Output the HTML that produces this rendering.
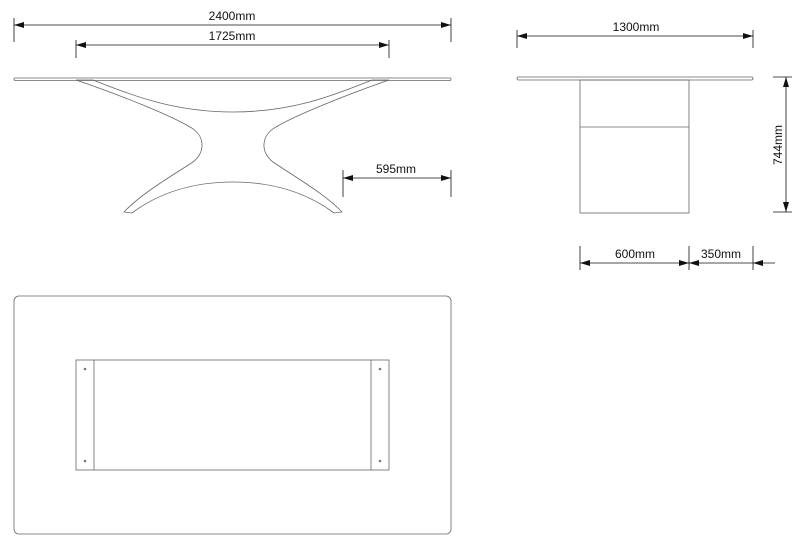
<!DOCTYPE html>
<html><head><meta charset="utf-8"><style>html,body{margin:0;padding:0;background:#fff}svg{display:block}</style></head><body>
<svg width="800" height="543" viewBox="0 0 800 543" xmlns="http://www.w3.org/2000/svg" font-family="Liberation Sans, Arial, sans-serif" font-size="12" fill="none">
<defs>
<marker id="a" markerWidth="10" markerHeight="6" refX="10" refY="3" orient="auto-start-reverse" markerUnits="userSpaceOnUse"><path d="M0,0 L10,3 L0,6 z" fill="#111"/></marker>
</defs>
<g stroke="#111" stroke-width="0.8">
<!-- 2400 -->
<line x1="14" y1="18" x2="14" y2="42"/><line x1="451" y1="18" x2="451" y2="42"/>
<line x1="14" y1="25" x2="451" y2="25" marker-start="url(#a)" marker-end="url(#a)"/>
<!-- 1725 -->
<line x1="76" y1="40" x2="76" y2="58"/><line x1="389" y1="40" x2="389" y2="58"/>
<line x1="76" y1="45" x2="389" y2="45" marker-start="url(#a)" marker-end="url(#a)"/>
<!-- 595 -->
<line x1="343" y1="170" x2="343" y2="197"/><line x1="451" y1="170" x2="451" y2="197"/>
<line x1="343" y1="178" x2="451" y2="178" marker-start="url(#a)" marker-end="url(#a)"/>
<!-- 1300 -->
<line x1="517" y1="30" x2="517" y2="48"/><line x1="753" y1="30" x2="753" y2="48"/>
<line x1="517" y1="36" x2="753" y2="36" marker-start="url(#a)" marker-end="url(#a)"/>
<!-- 744 -->
<line x1="773" y1="77" x2="792" y2="77"/><line x1="773" y1="212" x2="792" y2="212"/>
<line x1="786" y1="77" x2="786" y2="212" marker-start="url(#a)" marker-end="url(#a)"/>
<!-- 600/350 -->
<line x1="580" y1="246" x2="580" y2="270"/><line x1="689" y1="246" x2="689" y2="270"/><line x1="753" y1="246" x2="753" y2="270"/>
<line x1="580" y1="263" x2="689" y2="263" marker-start="url(#a)" marker-end="url(#a)"/>
<line x1="689" y1="263" x2="753" y2="263" marker-start="url(#a)"/>
<line x1="753" y1="263" x2="775" y2="263" marker-start="url(#a)"/>
</g>
<g stroke="#666" stroke-width="0.8">
<rect x="14" y="78" width="437" height="2.5" rx="1.2"/>
<path d="M76,80 C120,95 170,115 190,127 C205,135 206,152 193,162 C165,180 140,195 124,212 L132,213 C160,192 195,182 233,182 C271,182 306,192 334,213 L342,212 C326,195 300,180 273,162 C260,152 261,135 276,127 C296,115 346,95 389,80 L372,80 C330,97 290,112 233,112 C176,112 136,97 93,80 Z"/>
<rect x="517" y="77" width="236" height="3" rx="1.5"/>
<rect x="580" y="80" width="109" height="133"/>
<line x1="580" y1="127" x2="689" y2="127"/>
<rect x="14" y="296" width="437" height="238" rx="5"/>
<rect x="76" y="360" width="313" height="110"/>
<line x1="94" y1="360" x2="94" y2="470"/><line x1="371" y1="360" x2="371" y2="470"/>
</g>
<g fill="#777"><circle cx="85" cy="369" r="1.3"/><circle cx="85" cy="461" r="1.3"/><circle cx="380" cy="369" r="1.3"/><circle cx="380" cy="461" r="1.3"/></g>
<g fill="#111" text-anchor="middle">
<text x="232" y="20">2400mm</text>
<text x="232" y="40">1725mm</text>
<text x="396" y="173">595mm</text>
<text x="636" y="31">1300mm</text>
<text x="635" y="258">600mm</text>
<text x="721" y="258">350mm</text>
<text transform="translate(782,145) rotate(-90)">744mm</text>
</g>
</svg>
</body></html>
